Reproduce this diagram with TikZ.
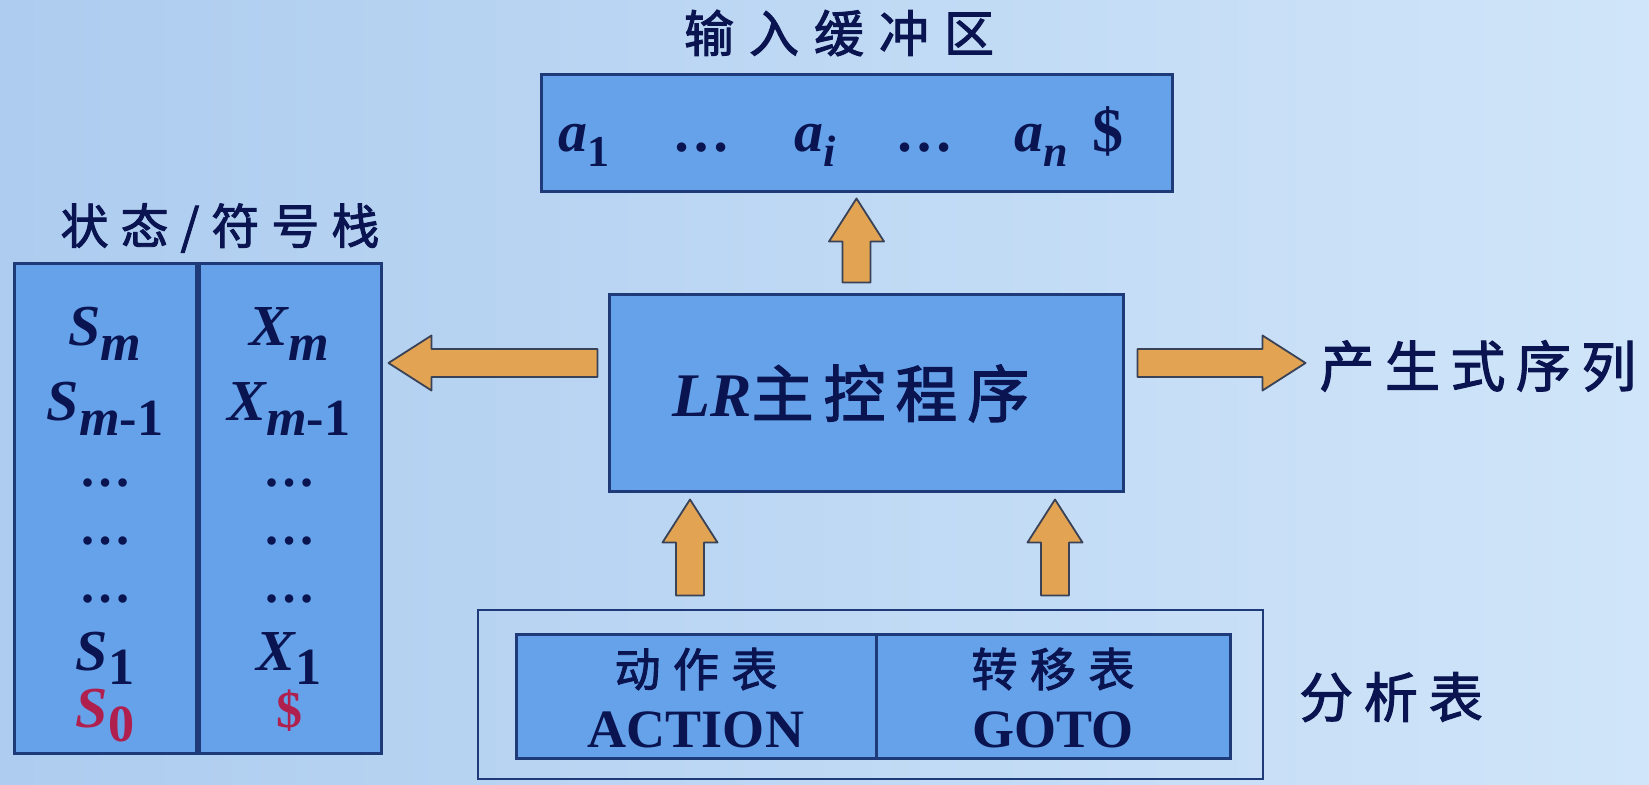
\documentclass[tikz,border=0pt]{standalone}
\usepackage{fontspec}
\setmainfont{Liberation Serif}
\newfontfamily\cjk[FakeBold=2]{Noto Sans CJK SC}
\usetikzlibrary{calc,fit}
\definecolor{bgL}{HTML}{ADCCEF}
\definecolor{bgR}{HTML}{D0E5F9}
\definecolor{boxfill}{HTML}{66A2EA}
\definecolor{boxline}{HTML}{1E3A78}
\definecolor{arrfill}{HTML}{E2A452}
\definecolor{arrline}{HTML}{3A4258}
\definecolor{ink}{HTML}{0A1450}
\definecolor{inkred}{HTML}{B0204E}
\newcommand\lsub[2][0.9]{\raisebox{-0.25em}{\scalebox{#1}{#2}}}
\newcommand\fsz[1]{\fontsize{#1}{#1}\selectfont}
% block arrow: #1 name, #2 tail coordinate, #3 tip coordinate
\newcommand\barrow[3]{%
  \coordinate (#1h) at ($(#3)!21.5pt!(#2)$);
  \draw[blockarr] ($(#2)!7pt!90:(#3)$) -- ($(#1h)!7pt!90:(#3)$) -- ($(#1h)!13.75pt!90:(#3)$)
    -- (#3) -- ($(#1h)!13.75pt!-90:(#3)$) -- ($(#1h)!7pt!-90:(#3)$) -- ($(#2)!7pt!-90:(#3)$) -- cycle;}
\tikzset{
  panel/.style={draw=boxline, line width=1.5pt, fill=boxfill, inner sep=0pt},
  frame/.style={draw=boxline, line width=1.2pt, inner sep=0pt},
  blockarr/.style={draw=arrline, line width=0.9pt, fill=arrfill, line join=round},
  lbl/.style={text=ink, inner sep=0pt},
  sym/.style={lbl, anchor=base, font=\fsz{29pt}\bfseries\itshape},
  symup/.style={lbl, anchor=base, font=\fsz{26pt}\bfseries},
  bufsym/.style={lbl, anchor=base west, font=\fsz{29pt}\bfseries\itshape},
  bufup/.style={lbl, anchor=base west, font=\fsz{29pt}\bfseries},
}
\begin{document}
\begin{tikzpicture}[x=0.5pt,y=-0.5pt]
\useasboundingbox (0,0) rectangle (1649,785);
\fill[left color=bgL, right color=bgR] (0,0) rectangle (1649,785);

% boxes
\node[panel, fit={(541,75) (1172,192)}] (buf) {};
\node[panel, fit={(609,295) (1123,492)}] (lr) {};
\node[panel, fit={(14,264) (196,753)}] (stS) {};
\node[panel, fit={(199,264) (381,753)}] (stX) {};
\node[frame, fit={(478,610) (1263,779)}] (tbl) {};
\node[panel, fit={(516,635) (876,758)}] (act) {};
\node[panel, fit={(876,635) (1230,758)}] (gto) {};

% titles
\node[lbl, font={\cjk\fsz{25pt}\addfontfeatures{LetterSpace=30}}] (tbuf) at (839,33) {输入缓冲区};
\node[lbl, font={\cjk\fsz{24pt}\addfontfeatures{LetterSpace=25}}] (tst) at (220,228) {状态/符号栈};
\node[lbl, font={\cjk\fsz{27.5pt}\addfontfeatures{LetterSpace=19}}] (tprod) at (1478,366) {产生式序列};
\node[lbl, font={\cjk\fsz{27pt}\addfontfeatures{LetterSpace=20}}] (ttbl) at (1391,697) {分析表};

% input buffer contents
\node[bufsym] (b1) at (558,152) {a\lsub[0.76]{\upshape 1}};
\node[bufup] (b2) at (672,152) {…};
\node[bufsym] (b3) at (794,152) {a\lsub[0.76]{i}};
\node[bufup] (b4) at (895,152) {…};
\node[bufsym] (b5) at (1014,152) {a\lsub[0.76]{n}};
\node[bufup, font=\fsz{31pt}\bfseries] (b6) at (1092,152) {\$};

% LR main program
\node[lbl, anchor=base west] (lrt) at (672,417) {\fsz{31pt}{\bfseries\itshape LR}{\cjk\addfontfeatures{LetterSpace=16}主控程序}};

% stack contents
\node[sym] (s1) at (105,346) {S\lsub{m}};
\node[sym] (s2) at (105,421) {S\lsub{m\upshape-1}};
\node[symup] (s3) at (105,487) {…};
\node[symup] (s4) at (105,545) {…};
\node[symup] (s5) at (105,603) {…};
\node[sym] (s6) at (105,670) {S\lsub{\upshape 1}};
\node[sym, text=inkred] (s7) at (105,727) {S\lsub{\upshape 0}};
\node[sym] (x1) at (289,346) {X\lsub{m}};
\node[sym] (x2) at (289,421) {X\lsub{m\upshape-1}};
\node[symup] (x3) at (289,487) {…};
\node[symup] (x4) at (289,545) {…};
\node[symup] (x5) at (289,603) {…};
\node[sym] (x6) at (289,670) {X\lsub{\upshape 1}};
\node[symup, text=inkred] (x7) at (289,727) {\$};

% analysis table contents
\node[lbl, font={\cjk\fsz{23pt}\addfontfeatures{LetterSpace=27}}] (actc) at (696,669) {动作表};
\node[lbl, anchor=base, font=\fsz{27pt}\bfseries] (acte) at (696,747) {ACTION};
\node[lbl, font={\cjk\fsz{23pt}\addfontfeatures{LetterSpace=27}}] (gtoc) at (1053,669) {转移表};
\node[lbl, anchor=base, font=\fsz{27pt}\bfseries] (gtoe) at (1053,747) {GOTO};

% arrows
\coordinate (upH) at ($(buf.south)+(0,5)$);
\coordinate (upT) at ($(lr.north -| buf.south)+(0,-11)$);
\barrow{aup}{upT}{upH}
\coordinate (lfT) at ($(lr.west)+(-10,-30.5)$);
\coordinate (lfH) at ($(stX.east |- lfT)+(6,0)$);
\barrow{alf}{lfT}{lfH}
\coordinate (rtT) at ($(lr.east)+(13,-30.5)$);
\coordinate (rtH) at ($(rtT)+(168,0)$);
\barrow{art}{rtT}{rtH}
\coordinate (a1T) at ($(act.north)+(-6,-38)$);
\coordinate (a1H) at ($(a1T |- lr.south)+(0,6)$);
\barrow{aa1}{a1T}{a1H}
\coordinate (a2T) at ($(gto.north)+(2,-38)$);
\coordinate (a2H) at ($(a2T |- lr.south)+(0,6)$);
\barrow{aa2}{a2T}{a2H}
\end{tikzpicture}
\end{document}
